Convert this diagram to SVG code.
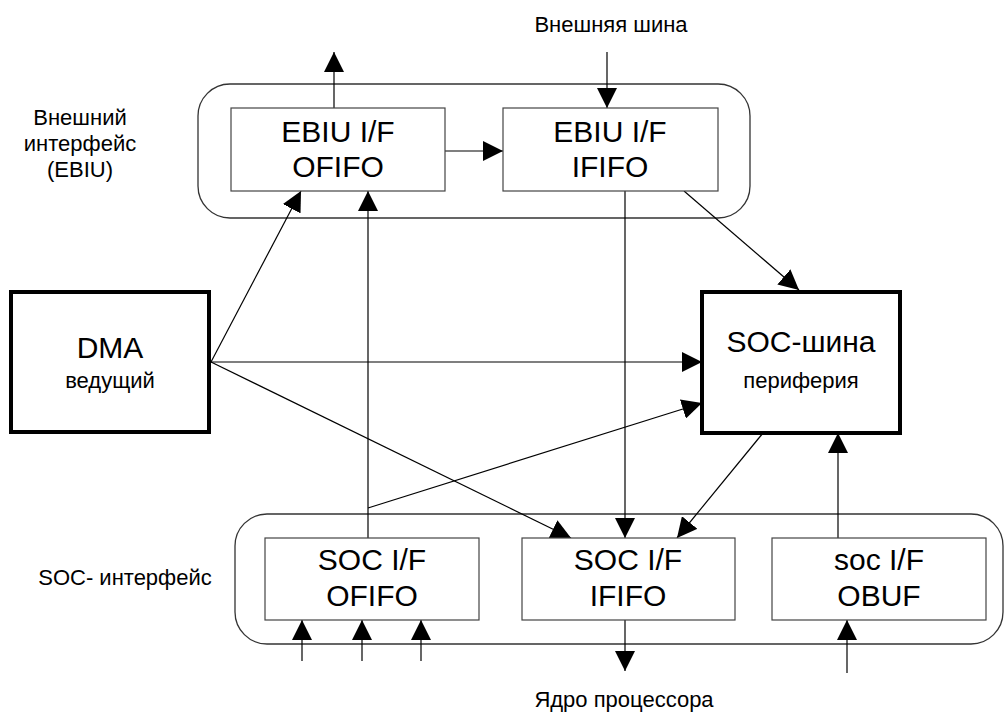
<svg xmlns="http://www.w3.org/2000/svg" width="1004" height="714" viewBox="0 0 1004 714">
  <style>
    text { font-family: "Liberation Sans", Arial, sans-serif; fill: #000; text-anchor: middle; }
    .big { font-size: 30px; }
    .small { font-size: 22px; }
    .grp { fill: none; stroke: #333; stroke-width: 1.3; }
    .box { fill: #fff; stroke: #444; stroke-width: 1.2; }
    .thick { fill: #fff; stroke: #000; stroke-width: 4; }
    .conn line, .conn polyline { stroke: #000; stroke-width: 1.2; fill: none; }
    .arr { marker-end: url(#ah); }
  </style>
  <defs>
    <marker id="ah" markerUnits="userSpaceOnUse" markerWidth="20" markerHeight="20" refX="20" refY="10" orient="auto" viewBox="0 0 20 20">
      <path d="M0,0 L20,10 L0,20 z" fill="#000"/>
    </marker>
  </defs>

  <rect width="1004" height="714" fill="#fff"/>

  <!-- labels -->
  <g id="labels">
    <text class="small" x="611" y="32">Внешняя шина</text>
    <text class="small" x="80" y="125">Внешний</text>
    <text class="small" x="80" y="151">интерфейс</text>
    <text class="small" x="80" y="177">(EBIU)</text>
    <text class="small" x="125" y="585">SOC- интерфейс</text>
    <text class="small" x="624" y="707">Ядро процессора</text>
  </g>

  <!-- groups -->
  <g id="ebiu-group">
    <rect class="grp" x="198" y="84" width="552" height="134" rx="32" ry="32"/>
  </g>
  <g id="soc-group">
    <rect class="grp" x="235" y="514" width="768" height="130" rx="32" ry="32"/>
  </g>

  <!-- connectors -->
  <g id="connectors" class="conn">
    <line class="arr" x1="334" y1="108" x2="334" y2="52"/>
    <line class="arr" x1="607" y1="52" x2="607" y2="108"/>
    <line class="arr" x1="445" y1="151" x2="503" y2="151"/>
    <line class="arr" x1="211" y1="362" x2="301" y2="191"/>
    <line class="arr" x1="211" y1="362" x2="702" y2="362"/>
    <line class="arr" x1="211" y1="362" x2="571" y2="538"/>
    <line class="arr" x1="368" y1="538" x2="368" y2="191"/>
    <line class="arr" x1="368" y1="508" x2="702" y2="403"/>
    <line class="arr" x1="625" y1="191" x2="625" y2="538"/>
    <line class="arr" x1="684" y1="191" x2="799" y2="290"/>
    <line class="arr" x1="763" y1="433" x2="677" y2="538"/>
    <line class="arr" x1="838" y1="538" x2="838" y2="433"/>
    <line class="arr" x1="302" y1="661" x2="302" y2="620"/>
    <line class="arr" x1="362" y1="661" x2="362" y2="620"/>
    <line class="arr" x1="421" y1="661" x2="421" y2="620"/>
    <line class="arr" x1="625" y1="620" x2="625" y2="671"/>
    <line class="arr" x1="847" y1="673" x2="847" y2="620"/>
  </g>

  <!-- nodes -->
  <g id="ebiu-ofifo">
    <rect class="box" x="231" y="108" width="214" height="83"/>
    <text class="big" x="338" y="142">EBIU I/F</text>
    <text class="big" x="338" y="177">OFIFO</text>
  </g>
  <g id="ebiu-ififo">
    <rect class="box" x="503" y="108" width="215" height="83"/>
    <text class="big" x="610" y="142">EBIU I/F</text>
    <text class="big" x="610" y="177">IFIFO</text>
  </g>
  <g id="dma">
    <rect class="thick" x="11" y="292" width="198" height="140"/>
    <text class="big" x="110" y="358">DMA</text>
    <text class="small" x="110" y="388">ведущий</text>
  </g>
  <g id="soc-bus">
    <rect class="thick" x="702" y="292" width="198" height="141"/>
    <text class="big" x="801" y="352">SOC-шина</text>
    <text class="small" x="801" y="388">периферия</text>
  </g>
  <g id="soc-ofifo">
    <rect class="box" x="265" y="538" width="214" height="82"/>
    <text class="big" x="372" y="570">SOC I/F</text>
    <text class="big" x="372" y="606">OFIFO</text>
  </g>
  <g id="soc-ififo">
    <rect class="box" x="522" y="538" width="213" height="82"/>
    <text class="big" x="628" y="570">SOC I/F</text>
    <text class="big" x="628" y="606">IFIFO</text>
  </g>
  <g id="soc-obuf">
    <rect class="box" x="772" y="538" width="214" height="82"/>
    <text class="big" x="879" y="570">soc I/F</text>
    <text class="big" x="879" y="606">OBUF</text>
  </g>
</svg>
